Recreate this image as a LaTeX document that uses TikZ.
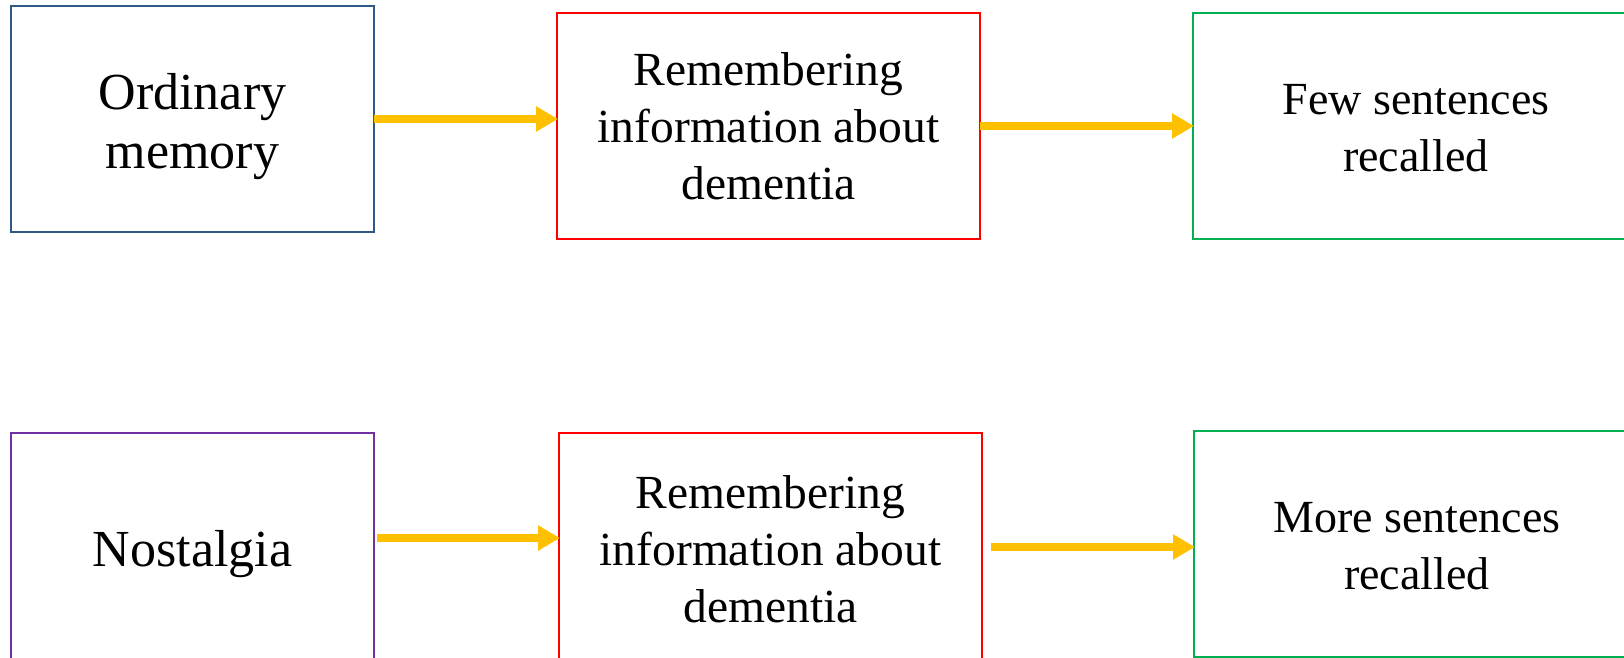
\documentclass[tikz,border=0pt]{standalone}
\usepackage{fontspec}
\setmainfont{Liberation Serif}
\usetikzlibrary{arrows.meta}
\definecolor{boxblue}{HTML}{2F5A88}
\definecolor{boxred}{HTML}{FF0000}
\definecolor{boxgreen}{HTML}{00B050}
\definecolor{boxpurple}{HTML}{7030A0}
\definecolor{arrowyellow}{HTML}{FFC000}
\tikzset{
  stepbox/.style={draw, line width=2.2pt, inner sep=0pt, outer sep=0pt, align=center,
    font=\fontsize{47.5}{57}\selectfont, text=black},
  boxtext/.style={inner sep=0pt, align=center, text=black},
  bigtext/.style={font=\fontsize{52}{59}\selectfont},
  greentext/.style={font=\fontsize{46}{57}\selectfont},
  flowarrow/.style={draw=arrowyellow, line width=8pt,
    -{Triangle[length=22pt,width=24pt]}, shorten >=-1pt}
}
\begin{document}
\begin{tikzpicture}[x=1pt,y=-1pt]
\useasboundingbox (0,0) rectangle (1624,658);
\begin{scope}
\clip (0,0) rectangle (1624,658);
% top row
\node[stepbox, draw=boxblue, minimum width=363pt, minimum height=226pt] (b1) at (192.5,119) {};
\node[boxtext, bigtext] (t1) at (192.5,127) {Ordinary\\memory};
\node[stepbox, draw=boxred, minimum width=423pt, minimum height=226pt] (b2) at (768.5,126) {Remembering\\information about\\dementia};
\node[stepbox, draw=boxgreen, minimum width=440pt, minimum height=226pt, anchor=west] (b3) at (1193,126) {};
\node[boxtext, greentext] (t3) at (1416,128) {Few sentences\\recalled};
% bottom row
\node[stepbox, draw=boxpurple, minimum width=363pt, minimum height=232pt] (b4) at (192.5,549) {};
\node[boxtext, bigtext] (t4) at (192.5,554) {Nostalgia};
\node[stepbox, draw=boxred, minimum width=423pt, minimum height=232pt] (b5) at (770.5,549) {Remembering\\information about\\dementia};
\node[stepbox, draw=boxgreen, minimum width=440pt, minimum height=226pt, anchor=west] (b6) at (1194,544) {};
\node[boxtext, greentext] (t6) at (1417,546) {More sentences\\recalled};
\end{scope}
% arrows
\draw[flowarrow] (b1.east |- 0,119) -- (b2.west |- 0,119);
\draw[flowarrow] (b2.east) -- (b3.west);
\draw[flowarrow] ([xshift=3pt]b4.east |- 0,538) -- (b5.west |- 0,538);
\draw[flowarrow] ([xshift=9pt]b5.east |- 0,547) -- (b6.west |- 0,547);
\end{tikzpicture}
\end{document}
